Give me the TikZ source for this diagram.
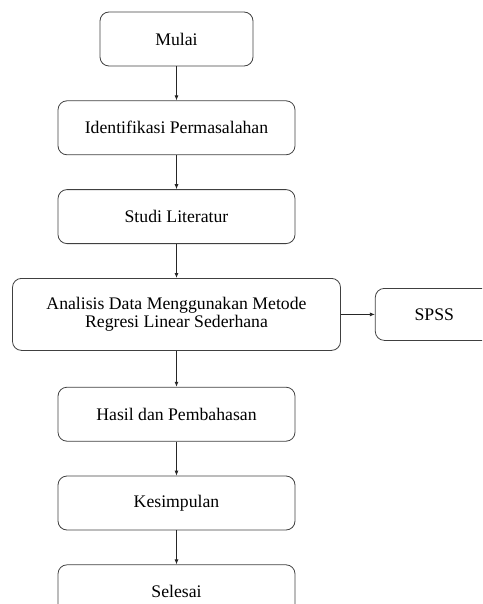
\documentclass[tikz,border=0pt]{standalone}
\usepackage{fontspec}
\setmainfont{Liberation Serif}
\usetikzlibrary{positioning,arrows.meta}

\tikzset{
	stepbox/.style =
	{
		draw			= black!75,
		line width		= 0.8pt,
		rounded corners	= 9pt,
		minimum height	= 54pt,
		minimum width	= 237pt,
		inner xsep		= 0pt,
		align			= center,
		font			= \fontsize{17.7}{17.5}\selectfont
	},
	flowarrow/.style =
	{
		-{Latex[length=5pt,width=4pt]},
		draw			= black!85,
		line width		= 0.8pt
	}
}

\begin{document}
	\begin{tikzpicture}[node distance = 34pt]
		%
		\useasboundingbox (0,0) rectangle (482pt,-604pt);
		\clip (0,0) rectangle (482pt,-604pt);
		%
		\node[stepbox, minimum width = 153pt] (mulai) at (176.5pt,-39pt) {Mulai};
		\node[stepbox, below = of mulai] (identifikasi) {Identifikasi Permasalahan};
		\node[stepbox, below = of identifikasi] (studi) {Studi Literatur};
		\node[stepbox, below = of studi, minimum width = 328pt, minimum height = 72pt] (analisis)
			{Analisis Data Menggunakan Metode\\Regresi Linear Sederhana};
		\node[stepbox, right = of analisis, minimum width = 118pt, minimum height = 52pt] (spss) {SPSS};
		\node[stepbox, below = 36pt of analisis] (hasil) {Hasil dan Pembahasan};
		\node[stepbox, below = of hasil] (kesimpulan) {Kesimpulan};
		\node[stepbox, below = of kesimpulan] (selesai) {Selesai};
		%
		\draw[flowarrow] (mulai) -- (identifikasi);
		\draw[flowarrow] (identifikasi) -- (studi);
		\draw[flowarrow] (studi) -- (analisis);
		\draw[flowarrow] (analisis) -- (spss);
		\draw[flowarrow] (analisis) -- (hasil);
		\draw[flowarrow] (hasil) -- (kesimpulan);
		\draw[flowarrow] (kesimpulan) -- (selesai);
		%
	\end{tikzpicture}
\end{document}
